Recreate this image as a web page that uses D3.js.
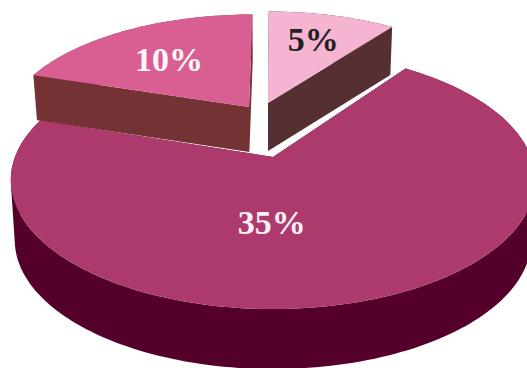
<!DOCTYPE html>
<html>
<head>
<meta charset="utf-8">
<script src="https://cdn.jsdelivr.net/npm/d3@7/dist/d3.min.js"></script>
<style>
  html, body { margin: 0; padding: 0; background: #fff; }
  svg { display: block; }
</style>
</head>
<body>
<svg id="chart" width="527" height="368"></svg>
<script>
// Slice shares, in pie order starting from the upper left.
const sliceNames = ["second", "third", "first"];
const sliceValues = [10, 5, 35];

// Slice styling and layout, in the same order.
const topColors = ["#D95F93", "#F4B4D2", "#AD3A6D"];
const wallColors = ["#743235", "#552F31", "#55002A"];
const labelColors = ["#FDF6F6", "#231F20", "#FBF1F4"];
const explodeOffsets = [[-0.1, 0.43], [-0.021, 0.468], [0, 0]];
const wallDepths = [45, 48, 60];
const labelSpots = [[-0.468, 0.908], [0.187, 1.132], [-0.004, -0.48]];

const width = 527, height = 368;
const cx = 273, cy = 157;      // where the pie's centre lands on screen
const radiusX = 258, radiusY = 125;
const tilt = 0.178;            // perspective foreshortening towards the back
const wallShrink = 0.985;      // lower rim sits slightly further from the eye

// Perspective projection from the unit disc (v points away from the viewer).
function project(u, v) {
  const w = 1 + tilt * v;
  return [cx + radiusX * u / w, cy - radiusY * v / w];
}

const pie = d3.pie().sort(null)
  .startAngle(-72 * Math.PI / 180)
  .endAngle(288 * Math.PI / 180);
const arcs = pie(sliceValues);

const lineGen = d3.line();
const svg = d3.select("#chart");

const slices = arcs.map((a, i) => {
  const [ou, ov] = explodeOffsets[i];
  const steps = Math.max(8, Math.round((a.endAngle - a.startAngle) * 40));
  const rim = d3.range(steps + 1).map(k => {
    const t = a.startAngle + (a.endAngle - a.startAngle) * k / steps;
    return project(ou + Math.sin(t), ov + Math.cos(t));
  });
  const apex = project(ou, ov);
  const drop = p => [cx + (p[0] - cx) * wallShrink, p[1] + wallDepths[i]];
  return { i, rim, apex, drop };
});

// Every quad winds the same way, so one nonzero-filled path unites them without seams.
function wallPath(s) {
  const first = s.rim[0], last = s.rim[s.rim.length - 1];
  const faces = [
    [s.apex, first, s.drop(first), s.drop(s.apex)],
    [s.apex, last, s.drop(last), s.drop(s.apex)]
  ].concat(d3.pairs(s.rim, (p, q) => [p, q, s.drop(q), s.drop(p)]));
  return faces
    .map(f => lineGen(d3.polygonArea(f) < 0 ? f.slice().reverse() : f) + "Z")
    .join("");
}

// Walls first, top faces over them.
svg.append("g")
  .selectAll("path")
  .data(slices)
  .join("path")
  .attr("d", wallPath)
  .attr("fill", s => wallColors[s.i]);

svg.append("g")
  .selectAll("path")
  .data(slices)
  .join("path")
  .attr("d", s => lineGen([s.apex].concat(s.rim)) + "Z")
  .attr("fill", s => topColors[s.i]);

// Percentage labels.
svg.append("g")
  .selectAll("text")
  .data(arcs)
  .join("text")
  .attr("x", (d, i) => project(labelSpots[i][0], labelSpots[i][1])[0])
  .attr("y", (d, i) => project(labelSpots[i][0], labelSpots[i][1])[1])
  .attr("text-anchor", "middle")
  .attr("dominant-baseline", "central")
  .attr("font-family", "'Liberation Serif', serif")
  .attr("font-weight", "bold")
  .attr("font-size", 34)
  .attr("fill", (d, i) => labelColors[i])
  .text(d => d.value + "%");
</script>
</body>
</html>
